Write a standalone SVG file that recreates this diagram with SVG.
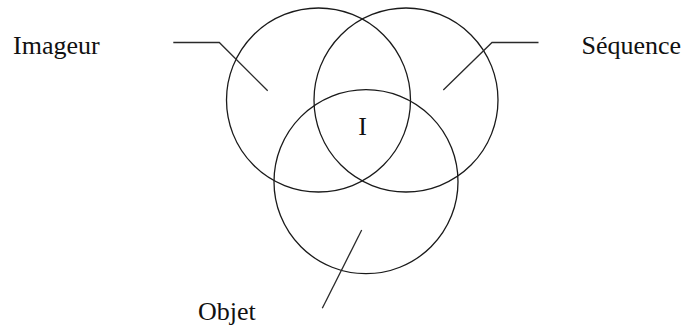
<svg xmlns="http://www.w3.org/2000/svg" width="687" height="329" viewBox="0 0 687 329">
<style>
.c{fill:none;stroke:#1a1a1a;stroke-width:1.3}
.l{fill:none;stroke:#2a2a2a;stroke-width:1.3}
.t{font-size:26px;fill:#111}
</style>
<rect width="687" height="329" fill="#fff"/>
<g id="imageur"><circle class="c" cx="318.5" cy="100" r="92"/><text class="t" font-family="'Liberation Serif', 'Times New Roman', 'DejaVu Serif', serif" x="13" y="54.3">Imageur</text></g>
<g id="sequence"><circle class="c" cx="406" cy="100" r="92"/><text class="t" font-family="'Liberation Serif', 'Times New Roman', 'DejaVu Serif', serif" x="581.5" y="54.3">Séquence</text></g>
<g id="objet"><circle class="c" cx="366" cy="181.7" r="92"/><text class="t" font-family="'Liberation Serif', 'Times New Roman', 'DejaVu Serif', serif" x="198" y="320">Objet</text></g>
<g id="intersection"><text class="t" font-family="'Liberation Serif', 'Times New Roman', 'DejaVu Serif', serif" x="362.7" y="135" text-anchor="middle">I</text></g>
<g id="connectors">
<polyline class="l" points="173.3,42.5 219.3,42.5 267.7,90.7"/>
<polyline class="l" points="538.5,42.5 492,42.5 443.3,90"/>
<line class="l" x1="361.7" y1="230" x2="322.3" y2="308.3"/>
</g>
</svg>
